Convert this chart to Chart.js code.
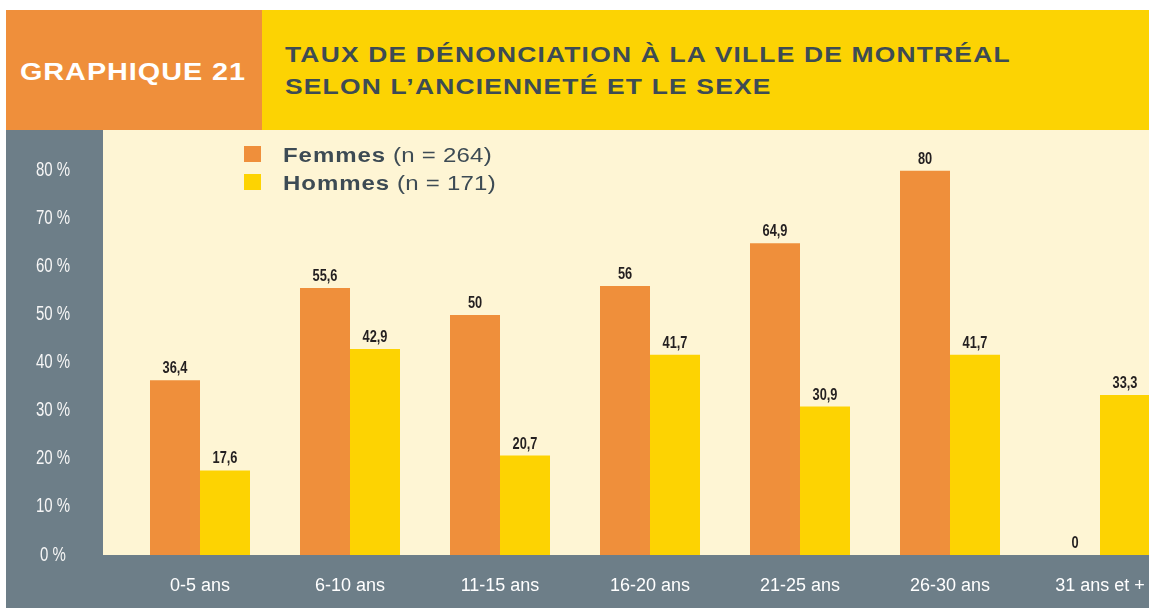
<!DOCTYPE html>
<html lang="fr">
<head>
<meta charset="utf-8">
<title>Graphique 21</title>
<script src="https://cdn.jsdelivr.net/npm/chart.js@4"></script>
<style>
  html, body { margin: 0; padding: 0; background: #fff; width: 1149px; height: 608px; overflow: hidden; }
  body { position: relative; font-family: "Liberation Sans", Arial, sans-serif; }
  .box { position: absolute; top: 10px; height: 120px; }
  #hdrLeft { left: 6px; width: 256px; background: #ef8f3b; }
  #hdrRight { left: 262px; width: 900px; background: #fcd303; }
  .wide { position: absolute; white-space: nowrap; transform-origin: 0 0; transform: scaleX(1.2); }
  #num { left: 20px; top: 60px; font-size: 24px; line-height: 24px; font-weight: bold; color: #fff; letter-spacing: 0.8px; }
  .ttl { left: 285px; font-size: 22px; line-height: 22px; font-weight: bold; color: #3d4b54; letter-spacing: 1px; }
  #chartBox { position: absolute; left: 6px; top: 130px; width: 1169px; height: 478px; background: #6d7e88; }
  .lgSq { position: absolute; left: 244px; width: 17px; height: 16px; }
  .lgTx { left: 283px; font-size: 20px; line-height: 20px; color: #3d4b54; }
  .lgTx b { letter-spacing: 0.8px; }
  .lgTx span { letter-spacing: 0.2px; }
</style>
</head>
<body>
<div id="hdrLeft" class="box"></div>
<div id="hdrRight" class="box"></div>
<div id="num" class="wide">GRAPHIQUE 21</div>
<div class="wide ttl" style="top:44px">TAUX DE DÉNONCIATION À LA VILLE DE MONTRÉAL</div>
<div class="wide ttl" style="top:76px">SELON L’ANCIENNETÉ ET LE SEXE</div>
<div id="chartBox"><canvas id="chart"></canvas></div>
<div id="legend"></div>
<script>
  // Données
  const categories = ['0-5 ans', '6-10 ans', '11-15 ans', '16-20 ans', '21-25 ans', '26-30 ans', '31 ans et +'];
  const femmes = [36.4, 55.6, 50, 56, 64.9, 80, 0];
  const hommes = [17.6, 42.9, 20.7, 41.7, 30.9, 41.7, 33.3];
  const seriesNames = ['Femmes', 'Hommes'];
  const seriesCounts = ['(n = 264)', '(n = 171)'];
  const seriesColors = ['#ef8f3b', '#fdd302'];
  const yMax = 88.5;
  const yStep = 10;

  const fmt = v => String(v).replace('.', ',');

  // Légende en HTML
  const legend = document.getElementById('legend');
  seriesNames.forEach((name, i) => {
    const sq = document.createElement('div');
    sq.className = 'lgSq';
    sq.style.top = (146 + i * 28) + 'px';
    sq.style.background = seriesColors[i];
    legend.appendChild(sq);
    const tx = document.createElement('div');
    tx.className = 'wide lgTx';
    tx.style.top = (145 + i * 28) + 'px';
    tx.innerHTML = '<b>' + name + '</b><span> ' + seriesCounts[i] + '</span>';
    legend.appendChild(tx);
  });

  // Texte étroit (pas de police condensée installée)
  function narrowText(ctx, text, x, y, sx) {
    ctx.save();
    ctx.translate(x, y);
    ctx.scale(sx, 1);
    ctx.fillText(text, 0, 0);
    ctx.restore();
  }

  // Fond crème de la zone de tracé
  const plotBg = {
    id: 'plotBg',
    beforeDraw(chart) {
      const { ctx, chartArea } = chart;
      ctx.save();
      ctx.fillStyle = '#fef5d4';
      ctx.fillRect(97, chartArea.top, chart.width - 97, chartArea.bottom - chartArea.top);
      ctx.restore();
    }
  };

  // Graduations en % et valeurs au-dessus des barres
  const labels = {
    id: 'labels',
    afterDatasetsDraw(chart) {
      const ctx = chart.ctx;
      const yScale = chart.scales.y;
      ctx.save();
      ctx.textAlign = 'center';

      ctx.font = '20px "Liberation Sans", Arial, sans-serif';
      ctx.fillStyle = '#f6f6f6';
      ctx.textBaseline = 'middle';
      yScale.ticks.forEach((t, i) => {
        narrowText(ctx, t.value + ' %', 47, yScale.getPixelForTick(i), 0.75);
      });

      ctx.font = 'bold 16px "Liberation Sans", Arial, sans-serif';
      ctx.fillStyle = '#231f20';
      ctx.textBaseline = 'alphabetic';
      chart.data.datasets.forEach((ds, i) => {
        chart.getDatasetMeta(i).data.forEach((bar, j) => {
          narrowText(ctx, fmt(ds.data[j]), bar.x, bar.y - 7, 0.8);
        });
      });
      ctx.restore();
    }
  };

  new Chart(document.getElementById('chart'), {
    type: 'bar',
    data: {
      labels: categories,
      datasets: [
        { label: seriesNames[0], data: femmes, backgroundColor: seriesColors[0] },
        { label: seriesNames[1], data: hommes, backgroundColor: seriesColors[1] }
      ]
    },
    options: {
      responsive: true,
      maintainAspectRatio: false,
      animation: false,
      layout: { padding: 0 },
      datasets: { bar: { barPercentage: 1, categoryPercentage: 2 / 3 } },
      plugins: { legend: { display: false }, tooltip: { enabled: false } },
      scales: {
        x: {
          grid: { display: false, drawTicks: false },
          border: { display: false },
          ticks: {
            color: '#ffffff',
            padding: 20,
            maxRotation: 0,
            autoSkip: false,
            font: { family: '"Liberation Sans", Arial, sans-serif', size: 18 }
          },
          afterFit(scale) {
            scale.height = 53;
            scale.paddingLeft = 0;
            scale.paddingRight = 0;
          }
        },
        y: {
          min: 0,
          max: yMax,
          grid: { display: false, drawTicks: false },
          border: { display: false },
          ticks: { display: false, stepSize: yStep, includeBounds: false },
          afterFit(scale) {
            scale.width = 119;
            scale.paddingTop = 0;
            scale.paddingBottom = 0;
          }
        }
      }
    },
    plugins: [plotBg, labels]
  });
</script>
</body>
</html>
